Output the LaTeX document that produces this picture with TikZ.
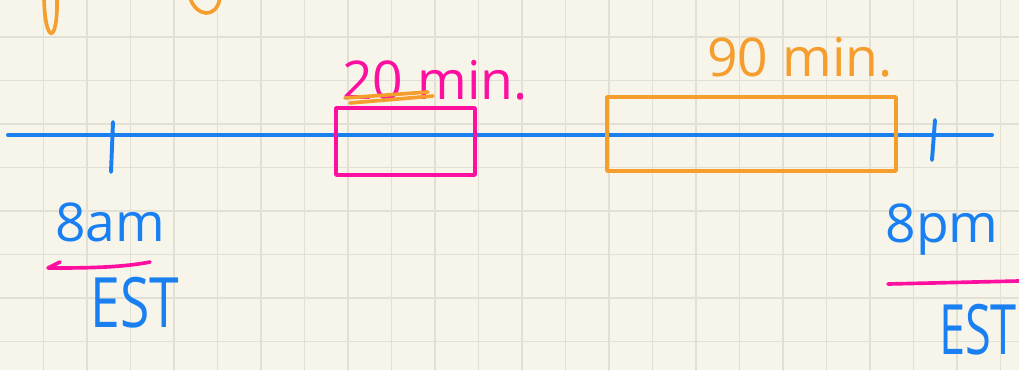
\documentclass[tikz,border=0pt]{standalone}
\usepackage{fontspec}
\setmainfont{Open Sans}
\usetikzlibrary{positioning}

\definecolor{paper}{HTML}{F7F5EA}
\definecolor{gridcol}{HTML}{E2E0D4}
\definecolor{inkblue}{HTML}{1A80F2}
\definecolor{inkpink}{HTML}{FF0FA0}
\definecolor{inkorange}{HTML}{F59E2E}

\begin{document}
\begin{tikzpicture}[x=0.025cm, y=-0.025cm, line cap=round, line join=round,
  gridline/.style={gridcol, line width=1pt},
  blueline/.style={inkblue, line width=2.8pt},
  pinkline/.style={inkpink, line width=2.6pt},
  orangeline/.style={inkorange, line width=2.6pt},
  slotbox/.style={draw, line width=2.6pt, inner sep=0pt, outer sep=0pt},
  hand/.style={inner sep=0pt, font=\fontsize{38}{38}\selectfont}
  ]
\useasboundingbox (0,0) rectangle (1019,370);
\fill [paper] (0,0) rectangle (1019,370);

% squared paper
\foreach \i in {1,...,23}
  \draw [gridline] (43.5*\i,0) -- (43.5*\i,370);
\foreach \j in {0,...,7}
  \draw [gridline] (0,37+43.5*\j) -- (1019,37+43.5*\j);

% bits of writing cut off at the top
\draw [orangeline] (44,-2) .. controls (45,45) and (58,45) .. (57,-2);
\draw [orangeline] (190,-2) .. controls (196,16) and (216,20) .. (220,-2);

% the time line
\coordinate (lstart) at (8,135);
\coordinate (lend) at (992,135);
\draw [blueline] (lstart) -- (lend);
\draw [blueline] (113,122) -- (111,172);
\draw [blueline] (935,120) -- (932,160);

% slots
\node [slotbox, draw=inkpink, minimum width=3.475cm, minimum height=1.675cm] (pinkbox) at (405.5,141.5) {};
\node [slotbox, draw=inkorange, minimum width=7.225cm, minimum height=1.85cm] (orangebox) at (751.5,134) {};

\node [hand, inkpink] (short) at (435,80) {20 min.};
\draw [orangeline] (345,98) -- (428,92);
\draw [orangeline] (350,103) -- (433,96);
\node [hand, inkorange] (long) at (800,57) {90 min.};

% start and end
\node [hand, inkblue] (startt) at (110,222) {8am};
\draw [pinkline] (150,262) .. controls (120,268) and (80,268) .. (48,268) -- (60,262);
\node [hand, inkblue, yscale=1.3] (startz) at (135,303) {EST};

\node [hand, inkblue] (endt) at (942,230) {8pm};
\draw [pinkline] (888,284) -- (1019,281);
\node [hand, inkblue, xscale=0.88, yscale=1.3] (endz) at (978,330) {EST};
\end{tikzpicture}
\end{document}
